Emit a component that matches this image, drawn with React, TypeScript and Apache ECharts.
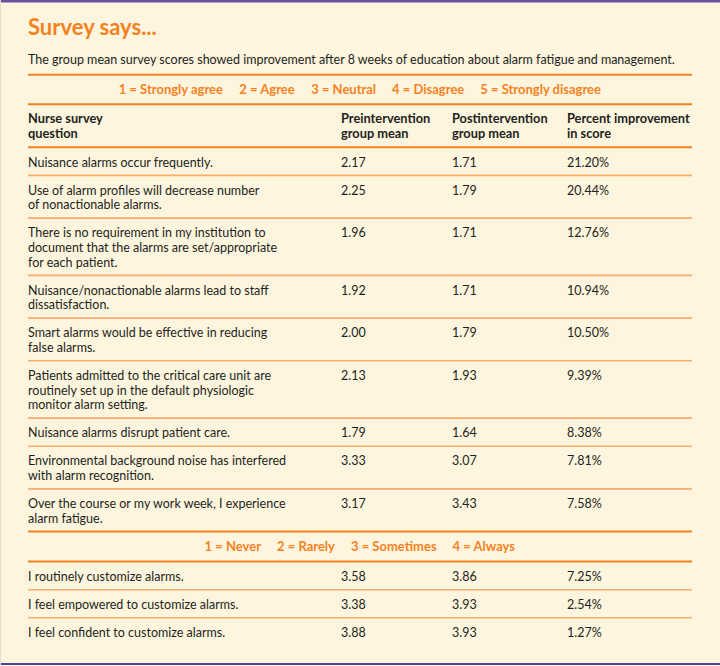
import React, { useEffect, useRef } from "react";
import * as echarts from "echarts";

const title = "Survey says...";
const subtitle =
  "The group mean survey scores showed improvement after 8 weeks of education about alarm fatigue and management.";
const headers = [
  "Nurse survey\nquestion",
  "Preintervention\ngroup mean",
  "Postintervention\ngroup mean",
  "Percent improvement\nin score",
];
const agreeScale = [
  "1 = Strongly agree",
  "2 = Agree",
  "3 = Neutral",
  "4 = Disagree",
  "5 = Strongly disagree",
];
const agreeQuestions = [
  "Nuisance alarms occur frequently.",
  "Use of alarm profiles will decrease number\nof nonactionable alarms.",
  "There is no requirement in my institution to\ndocument that the alarms are set/appropriate\nfor each patient.",
  "Nuisance/nonactionable alarms lead to staff\ndissatisfaction.",
  "Smart alarms would be effective in reducing\nfalse alarms.",
  "Patients admitted to the critical care unit are\nroutinely set up in the default physiologic\nmonitor alarm setting.",
  "Nuisance alarms disrupt patient care.",
  "Environmental background noise has interfered\nwith alarm recognition.",
  "Over the course or my work week, I experience\nalarm fatigue.",
];
const agreePre = [2.17, 2.25, 1.96, 1.92, 2.0, 2.13, 1.79, 3.33, 3.17];
const agreePost = [1.71, 1.79, 1.71, 1.71, 1.79, 1.93, 1.64, 3.07, 3.43];
const agreePct = [21.2, 20.44, 12.76, 10.94, 10.5, 9.39, 8.38, 7.81, 7.58];

const frequencyScale = ["1 = Never", "2 = Rarely", "3 = Sometimes", "4 = Always"];
const frequencyQuestions = [
  "I routinely customize alarms.",
  "I feel empowered to customize alarms.",
  "I feel confident to customize alarms.",
];
const frequencyPre = [3.58, 3.38, 3.88];
const frequencyPost = [3.86, 3.93, 3.93];
const frequencyPct = [7.25, 2.54, 1.27];

const FONT = "Lato, 'Open Sans', sans-serif";
const ORANGE = "#F5821F";
const LIGHT_ORANGE = "#F9AC6C";
const INK = "#231F20";
const BG = "#FDF5DE";
const BODY = 12.5;

function measure(str: string, font: string): number {
  const c = document.createElement("canvas");
  const ctx = c.getContext("2d")!;
  ctx.font = font;
  return ctx.measureText(str).width;
}

function buildGraphics() {
  const els: any[] = [];
  const L = 28;
  const R = 692;
  const colX = [28, 341, 452, 567];
  const LH = 14.6;
  const PAD = 13.5;

  els.push({ type: "rect", shape: { x: 0, y: 0, width: 720, height: 666 }, style: { fill: BG } });
  els.push({ type: "rect", shape: { x: 0, y: 0, width: 720, height: 2.5 }, style: { fill: "#6A50A2" } });
  els.push({ type: "rect", shape: { x: 0, y: 663, width: 720, height: 2 }, style: { fill: "#4D429E" } });
  els.push({ type: "rect", shape: { x: 0, y: 0, width: 1, height: 666 }, style: { fill: "#E6DCC8" } });

  const hline = (y: number, major: boolean) =>
    els.push({
      type: "line",
      shape: { x1: L, y1: y, x2: R, y2: y },
      style: { stroke: major ? ORANGE : LIGHT_ORANGE, lineWidth: major ? 2 : 1.6 },
    });

  const txt = (x: number, y: number, s: string, o: any = {}) =>
    els.push({
      type: "text",
      x,
      y,
      style: {
        text: s,
        fill: o.fill || INK,
        fontSize: o.size || BODY,
        fontWeight: o.weight || "normal",
        fontFamily: FONT,
        align: o.align || "left",
        verticalAlign: o.va || "top",
        lineHeight: LH,
      },
    });

  txt(L, 26, title, { fill: ORANGE, size: 22, weight: "bold", va: "middle" });
  txt(L, 59, subtitle, { va: "middle" });

  const legend = (items: string[], cy: number) => {
    const font = `bold 13px ${FONT}`;
    const gap = 16;
    const widths = items.map((s) => measure(s, font));
    const total = widths.reduce((a, b) => a + b, 0) + gap * (items.length - 1);
    let x = 360 - total / 2;
    items.forEach((s, i) => {
      txt(x, cy, s, { fill: ORANGE, weight: "bold", size: 13, va: "middle" });
      x += widths[i] + gap;
    });
  };

  hline(74.7, true);
  legend(agreeScale, 89);
  hline(104.3, true);
  headers.forEach((h, i) => txt(colX[i], 104.3 + 6.5, h, { weight: "bold", size: 12.8 }));
  hline(147.3, true);

  const rows = (qs: string[], pre: number[], post: number[], pct: number[], top: number) => {
    let y = top;
    qs.forEach((q, i) => {
      const n = q.split("\n").length;
      const h = PAD + LH * n;
      const ty = y + 7.4;
      txt(colX[0], ty, q);
      txt(colX[1], ty, pre[i].toFixed(2));
      txt(colX[2], ty, post[i].toFixed(2));
      txt(colX[3], ty, pct[i].toFixed(2) + "%");
      y += h;
      if (i < qs.length - 1) hline(y, false);
    });
    return y;
  };

  const end1 = rows(agreeQuestions, agreePre, agreePost, agreePct, 147.3);
  hline(end1, true);
  legend(frequencyScale, end1 + 14.5);
  hline(end1 + 30, true);
  rows(frequencyQuestions, frequencyPre, frequencyPost, frequencyPct, end1 + 30);

  return els;
}

export default function App() {
  const ref = useRef<HTMLDivElement>(null);
  useEffect(() => {
    document.body.style.margin = "0";
    const chart = echarts.init(ref.current!, null, { renderer: "svg" });
    chart.setOption({
      animation: false,
      backgroundColor: BG,
      graphic: { elements: buildGraphics() },
    });
    return () => chart.dispose();
  }, []);
  return <div ref={ref} style={{ width: 720, height: 666 }} />;
}
